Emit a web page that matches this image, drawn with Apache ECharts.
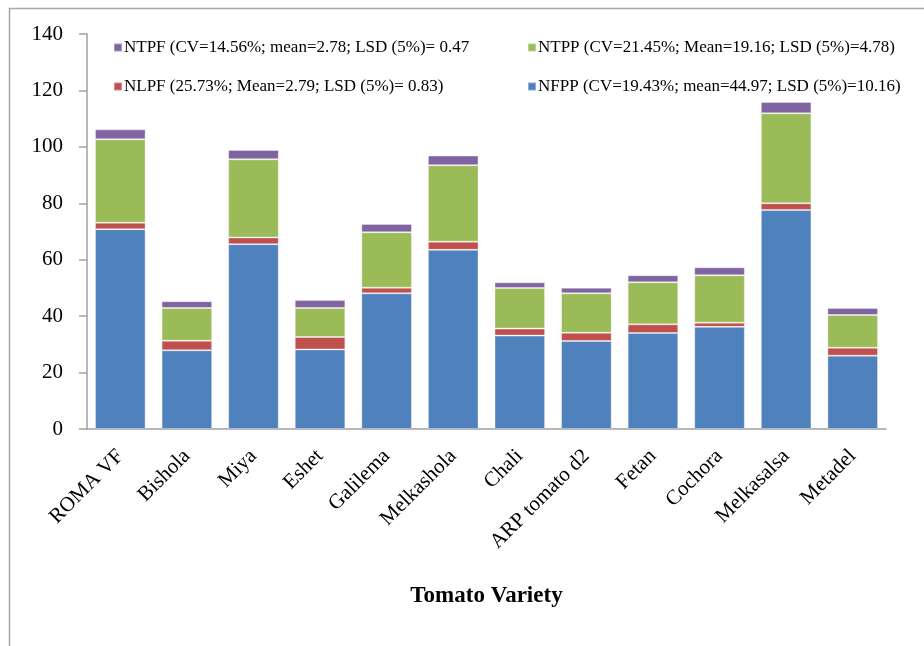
<!DOCTYPE html>
<html>
<head>
<meta charset="utf-8">
<script src="https://cdn.jsdelivr.net/npm/echarts@6/dist/echarts.min.js"></script>
<style>
  html, body { margin: 0; padding: 0; background: #ffffff; }
  #chart { width: 924px; height: 646px; }
</style>
</head>
<body>
<div id="chart"></div>
<script>
// Tomato varieties on the category axis
const varieties = ['ROMA VF', 'Bishola', 'Miya', 'Eshet', 'Galilema', 'Melkashola',
  'Chali', 'ARP tomato d2', 'Fetan', 'Cochora', 'Melkasalsa', 'Metadel'];

// Stacked components, bottom to top
const nfpp = [70.8, 27.9, 65.5, 28.2, 48.1, 63.5, 33.1, 31.2, 34.0, 36.2, 77.6, 26.0];
const nlpf = [2.3, 3.4, 2.4, 4.4, 2.0, 2.9, 2.5, 2.9, 3.1, 1.5, 2.4, 2.8];
const ntpp = [29.6, 11.6, 27.7, 10.3, 19.6, 27.1, 14.4, 14.0, 14.9, 16.8, 31.9, 11.6];
const ntpf = [3.5, 2.4, 3.3, 2.8, 3.0, 3.4, 2.0, 2.0, 2.5, 2.8, 4.0, 2.5];

// Legend captions with summary statistics
const legendText = {
  NTPF: 'NTPF (CV=14.56%; mean=2.78; LSD (5%)= 0.47',
  NTPP: 'NTPP (CV=21.45%; Mean=19.16; LSD (5%)=4.78)',
  NLPF: 'NLPF (25.73%; Mean=2.79; LSD (5%)= 0.83)',
  NFPP: 'NFPP (CV=19.43%; mean=44.97; LSD (5%)=10.16)'
};

const yTicks = { min: 0, max: 140, interval: 20 };

const serif = '"Liberation Serif", "DejaVu Serif", serif';
const colors = { NFPP: '#4F81BD', NLPF: '#C0504D', NTPP: '#9BBB59', NTPF: '#8064A2' };

function barSeries(name, data) {
  return {
    name: name,
    type: 'bar',
    stack: 'total',
    data: data,
    barCategoryGap: '24%',
    itemStyle: { color: colors[name], borderColor: 'rgba(255,255,255,0.35)', borderWidth: 1 },
    emphasis: { disabled: true }
  };
}

function legendAt(name, left, top) {
  return {
    data: [name],
    left: left,
    top: top,
    icon: 'rect',
    itemWidth: 8,
    itemHeight: 8,
    itemGap: 0,
    padding: 0,
    selectedMode: false,
    formatter: n => legendText[n],
    textStyle: { fontFamily: serif, fontSize: 17, color: '#000', padding: [0, 0, 0, -3] }
  };
}

const chart = echarts.init(document.getElementById('chart'), null, { renderer: 'canvas' });
chart.setOption({
  animation: false,
  backgroundColor: '#ffffff',
  graphic: [{
    type: 'rect',
    left: 7, top: 6,
    shape: { width: 940, height: 700 },
    style: { fill: 'none', stroke: '#a6a6a6', lineWidth: 1.5 },
    silent: true
  }],
  legend: [
    legendAt('NTPF', 113, 39),
    legendAt('NTPP', 527, 39),
    legendAt('NLPF', 113, 78),
    legendAt('NFPP', 527, 78)
  ],
  grid: { left: 87, right: 38, top: 34, bottom: 217, containLabel: false },
  xAxis: {
    type: 'category',
    data: varieties,
    name: 'Tomato Variety',
    nameLocation: 'middle',
    nameGap: 156,
    nameTextStyle: { fontFamily: serif, fontSize: 23, fontWeight: 'bold', color: '#000' },
    axisLine: { lineStyle: { color: '#a0a0a0', width: 1.5 } },
    axisTick: { show: false },
    axisLabel: { rotate: 45, margin: 24, interval: 0, fontFamily: serif, fontSize: 21, color: '#000' }
  },
  yAxis: {
    type: 'value',
    min: yTicks.min,
    max: yTicks.max,
    interval: yTicks.interval,
    axisLine: { show: true, lineStyle: { color: '#a0a0a0', width: 1.5 } },
    axisTick: { show: true, length: 8, lineStyle: { color: '#a0a0a0', width: 1.5 } },
    splitLine: { show: false },
    axisLabel: { margin: 24, fontFamily: serif, fontSize: 21, color: '#000' }
  },
  series: [
    barSeries('NFPP', nfpp),
    barSeries('NLPF', nlpf),
    barSeries('NTPP', ntpp),
    barSeries('NTPF', ntpf)
  ]
});
</script>
</body>
</html>
